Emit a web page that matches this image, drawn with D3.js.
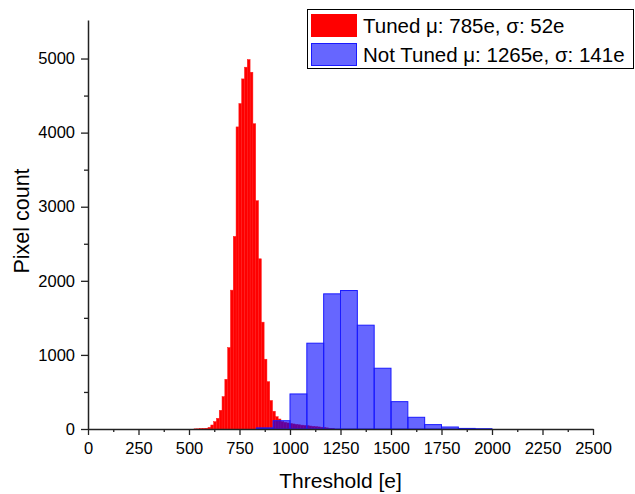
<!DOCTYPE html>
<html>
<head>
<meta charset="utf-8">
<script src="https://cdn.jsdelivr.net/npm/d3@7"></script>
<style>
  body { margin: 0; background: #fff; }
  text { font-family: "Liberation Sans", Arial, sans-serif; fill: #000; }
</style>
</head>
<body>
<script>
// threshold unit: one DAC step in electrons
var dacStep = 250 / 18;

// tuned pixels: fine bins, first edge + counts
var tunedFirstEdge = 524.67;
var tunedCounts = [2, 3, 4, 6, 10, 22, 54, 99, 144, 252, 437, 671, 1099, 1874, 2599,
  4077, 4392, 4725, 4883, 4986, 4815, 4120, 3081, 2297, 1442, 942, 639, 385, 240, 166,
  135, 100, 90, 82, 75, 68, 62, 57, 52, 48, 44, 40, 36, 32, 28, 24, 20, 15, 10, 5];

// not tuned pixels: coarse bins (6 DAC steps)
var notTunedFirstEdge = 833.33;
var notTunedCounts = [15, 112, 473, 1158, 1824, 1869, 1401, 820, 369, 158, 59, 27, 8, 4];

var legendLabels = ["Tuned \u03bc: 785e, \u03c3: 52e", "Not Tuned \u03bc: 1265e, \u03c3: 141e"];

var xMajor = [0, 250, 500, 750, 1000, 1250, 1500, 1750, 2000, 2250, 2500];
var yMajor = [0, 1000, 2000, 3000, 4000, 5000];

var width = 635, height = 494;

function makeBins(first, w, counts) {
  return counts.map(function (c, i) {
    return { x0: first + i * w, x1: first + (i + 1) * w, count: c };
  });
}

var tunedBins = makeBins(tunedFirstEdge, dacStep, tunedCounts);
var notTunedBins = makeBins(notTunedFirstEdge, dacStep * 6, notTunedCounts);

var svg = d3.select("body")
  .append("svg")
  .attr("width", width)
  .attr("height", height);

var x = d3.scaleLinear().domain([0, 2500]).range([88, 593]);
var y = d3.scaleLinear().domain([0, 5520]).range([429, 20]);

// bars
svg.append("g")
  .selectAll("rect")
  .data(tunedBins)
  .enter().append("rect")
  .attr("x", function (d) { return x(d.x0); })
  .attr("width", function (d) { return x(d.x1) - x(d.x0); })
  .attr("y", function (d) { return y(d.count); })
  .attr("height", function (d) { return y(0) - y(d.count); })
  .style("fill", "#ff0000")
  .style("stroke", "#ff1a1a")
  .style("stroke-width", 0.5);

svg.append("g")
  .selectAll("rect")
  .data(notTunedBins)
  .enter().append("rect")
  .attr("x", function (d) { return x(d.x0); })
  .attr("width", function (d) { return x(d.x1) - x(d.x0); })
  .attr("y", function (d) { return y(d.count); })
  .attr("height", function (d) { return y(0) - y(d.count); })
  .style("fill", "rgba(0,0,255,0.6)")
  .style("stroke", "#1a1aff")
  .style("stroke-width", 1);

// axes
var xMinor = d3.range(125, 2500, 250);
var yMinor = d3.range(500, 5500, 1000);
var fmt = d3.format("d");

function styleAxis(g) {
  g.select(".domain").style("stroke", "#222").style("stroke-width", 1.5);
  g.selectAll(".tick line").style("stroke", "#222").style("stroke-width", 1.3);
  g.selectAll(".tick text").style("font-size", "16.5px").style("font-family", "Liberation Sans, Arial, sans-serif");
}

var xAxis = svg.append("g")
  .attr("transform", "translate(0,429)")
  .call(d3.axisBottom(x).tickValues(xMajor).tickFormat(fmt).tickSize(6).tickPadding(7).tickSizeOuter(0));
styleAxis(xAxis);

svg.append("g")
  .attr("transform", "translate(0,429)")
  .call(d3.axisBottom(x).tickValues(xMinor).tickSize(3).tickFormat("").tickSizeOuter(0))
  .call(function (g) {
    g.select(".domain").remove();
    g.selectAll(".tick line").style("stroke", "#222").style("stroke-width", 1.3);
  });

var yAxis = svg.append("g")
  .attr("transform", "translate(88,0)")
  .call(d3.axisLeft(y).tickValues(yMajor).tickFormat(fmt).tickSize(7).tickPadding(6).tickSizeOuter(0));
styleAxis(yAxis);

svg.append("g")
  .attr("transform", "translate(88,0)")
  .call(d3.axisLeft(y).tickValues(yMinor).tickSize(4).tickFormat("").tickSizeOuter(0))
  .call(function (g) {
    g.select(".domain").remove();
    g.selectAll(".tick line").style("stroke", "#222").style("stroke-width", 1.3);
  });

// axis titles
svg.append("text")
  .attr("x", 340.5)
  .attr("y", 488)
  .attr("text-anchor", "middle")
  .style("font-size", "21px")
  .text("Threshold [e]");

svg.append("text")
  .attr("transform", "translate(29,221) rotate(-90)")
  .attr("text-anchor", "middle")
  .style("font-size", "21.5px")
  .text("Pixel count");

// legend
var legend = svg.append("g");
legend.append("rect")
  .attr("x", 307.5).attr("y", 9.5)
  .attr("width", 326).attr("height", 59)
  .style("fill", "#fff")
  .style("stroke", "#000")
  .style("stroke-width", 1);

var swatchFill = ["#ff0000", "#6666ff"];
var swatchStroke = ["#ff0000", "#1a1aff"];

legend.selectAll(".sw")
  .data(legendLabels)
  .enter().append("rect")
  .attr("class", "sw")
  .attr("x", 311.5)
  .attr("y", function (d, i) { return 14.5 + i * 29; })
  .attr("width", 45)
  .attr("height", 22)
  .style("fill", function (d, i) { return swatchFill[i]; })
  .style("stroke", function (d, i) { return swatchStroke[i]; });

legend.selectAll(".lbl")
  .data(legendLabels)
  .enter().append("text")
  .attr("class", "lbl")
  .attr("x", 363)
  .attr("y", function (d, i) { return 33 + i * 29; })
  .style("font-size", "20.5px")
  .text(function (d) { return d; });
</script>
</body>
</html>
